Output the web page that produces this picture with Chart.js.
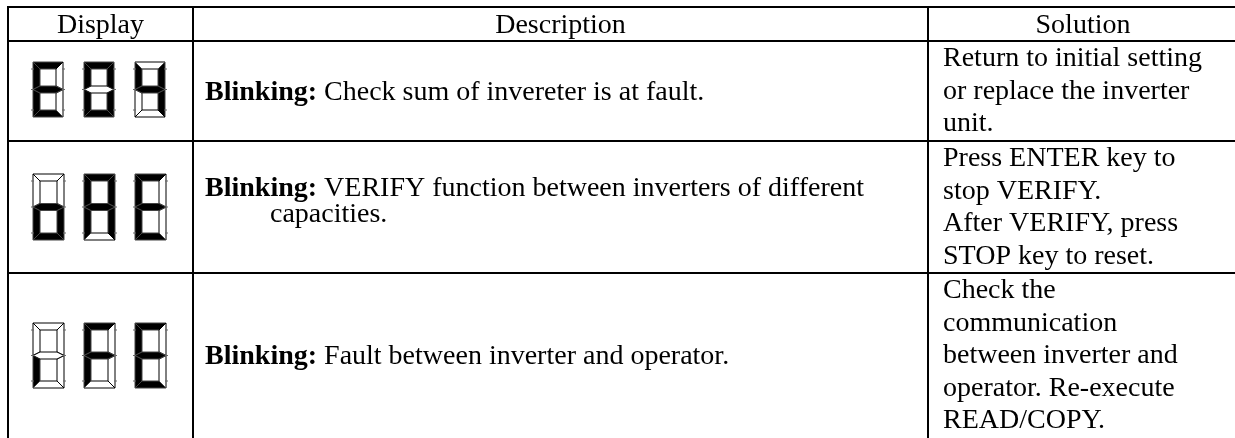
<!DOCTYPE html>
<html>
<head>
<meta charset="utf-8">
<script src="https://cdn.jsdelivr.net/npm/chart.js@4/dist/chart.umd.min.js"></script>
<style>
  html, body { margin: 0; padding: 0; background: #fff; }
  #wrap { width: 1235px; height: 438px; position: relative; }
</style>
</head>
<body>
<div id="wrap"><canvas id="errTable"></canvas></div>
<script>
// table content
const headers = ['Display', 'Description', 'Solution']
const displayCodes = ['E04', 'oAE', 'iFE']
const descLabels = ['Blinking:', 'Blinking:', 'Blinking:']
const descLines = [
    ['Check sum of invereter is at fault.'],
    ['VERIFY function between inverters of different', 'capacities.'],
    ['Fault between inverter and operator.']
]
const solutionLines = [
    ['Return to initial setting', 'or replace the inverter', 'unit.'],
    ['Press ENTER key to', 'stop VERIFY.', 'After VERIFY, press', 'STOP key to reset.'],
    ['Check the', 'communication', 'between inverter and', 'operator. Re-execute', 'READ/COPY.']
]
// lit segments per character (a top, b up-right, c low-right, d bottom, e low-left, f up-left, g middle)
const segmentMap = { E: 'adefg', '0': 'abcdef', '4': 'bcfg', o: 'cdeg', A: 'abcefg', i: 'e', F: 'aefg' }

// layout, in page pixels (the hidden scales run 0..1235 and 0..438)
const colEdges = [8, 193, 928, 1238]
const rowEdges = [7, 41, 141, 273, 445]
const FONT = '"Liberation Serif", "Times New Roman", serif'
const SIZE = 28
const LINE_H = 32.5

function gridDatasets() {
    const sets = []
    rowEdges.slice(0, 4).forEach(y => {
        sets.push({ data: [{ x: colEdges[0] - 1, y: y }, { x: colEdges[3], y: y }] })
    })
    colEdges.slice(0, 3).forEach(x => {
        sets.push({ data: [{ x: x, y: rowEdges[0] - 1 }, { x: x, y: rowEdges[4] }] })
    })
    return sets.map(s => Object.assign(s, {
        showLine: true, borderColor: '#000', borderWidth: 2, pointRadius: 0, fill: false
    }))
}

function segPolys(w, h, t) {
    const m = h / 2
    return {
        a: [[0, 0], [w, 0], [w - t, t], [t, t]],
        d: [[0, h], [t, h - t], [w - t, h - t], [w, h]],
        f: [[0, 0], [t, t], [t, m - t / 2], [0, m]],
        b: [[w, 0], [w, m], [w - t, m - t / 2], [w - t, t]],
        e: [[0, m], [t, m + t / 2], [t, h - t], [0, h]],
        c: [[w, m], [w, h], [w - t, h - t], [w - t, m + t / 2]],
        g: [[0, m], [t, m - t / 2], [w - t, m - t / 2], [w, m], [w - t, m + t / 2], [t, m + t / 2]]
    }
}

const digitRows = [
    { top: 62, h: 55, w: 30, t: 7 },
    { top: 174, h: 66, w: 31, t: 7 },
    { top: 323, h: 65, w: 31, t: 7 }
]
const digitLefts = [33, 84, 135]

const tablePlugin = {
    id: 'tablePlugin',
    afterDatasetsDraw(chart) {
        const ctx = chart.ctx
        const sx = v => chart.scales.x.getPixelForValue(v)
        const sy = v => chart.scales.y.getPixelForValue(v)
        ctx.save()
        ctx.fillStyle = '#000'
        ctx.textBaseline = 'alphabetic'

        // header
        ctx.font = SIZE + 'px ' + FONT
        ctx.textAlign = 'center'
        headers.forEach((h, i) => {
            ctx.fillText(h, sx((colEdges[i] + colEdges[i + 1]) / 2), sy(33))
        })

        // rows
        ctx.textAlign = 'left'
        const descBase = [[100], [196, 222], [364]]
        for (let r = 0; r < 3; r++) {
            // description
            ctx.font = 'bold ' + SIZE + 'px ' + FONT
            ctx.fillText(descLabels[r], sx(205), sy(descBase[r][0]))
            const lw = ctx.measureText(descLabels[r] + ' ').width
            ctx.font = SIZE + 'px ' + FONT
            descLines[r].forEach((txt, k) => {
                const x = k === 0 ? 205 + lw : 270
                ctx.fillText(txt, sx(x), sy(descBase[r][k]))
            })
            // solution
            solutionLines[r].forEach((txt, k) => {
                ctx.fillText(txt, sx(943), sy(rowEdges[r + 1] + 25 + k * LINE_H))
            })
            // seven segment display
            const g = digitRows[r]
            const polys = segPolys(g.w, g.h, g.t)
            displayCodes[r].split('').forEach((ch, d) => {
                const lit = segmentMap[ch]
                const x0 = digitLefts[d], y0 = g.top
                'abcdefg'.split('').forEach(s => {
                    const on = lit.indexOf(s) >= 0
                    ctx.beginPath()
                    polys[s].forEach((p, i) => {
                        const px = sx(x0 + p[0]), py = sy(y0 + p[1])
                        if (i === 0) ctx.moveTo(px, py); else ctx.lineTo(px, py)
                    })
                    ctx.closePath()
                    ctx.fillStyle = on ? '#000' : '#fff'
                    ctx.fill()
                    ctx.lineWidth = 1
                    ctx.strokeStyle = on ? '#444' : '#000'
                    ctx.stroke()
                })
                // small ticks on the sides
                ctx.strokeStyle = '#666'
                ctx.lineWidth = 1
                ;[g.t, g.h / 2, g.h - g.t].forEach(ty => {
                    ctx.beginPath()
                    ctx.moveTo(sx(x0 - 2), sy(y0 + ty)); ctx.lineTo(sx(x0 + 1), sy(y0 + ty))
                    ctx.moveTo(sx(x0 + g.w - 1), sy(y0 + ty)); ctx.lineTo(sx(x0 + g.w + 2), sy(y0 + ty))
                    ctx.stroke()
                })
                ctx.fillStyle = '#000'
            })
        }
        ctx.restore()
    }
}

new Chart(document.getElementById('errTable').getContext('2d'), {
    type: 'scatter',
    data: { datasets: gridDatasets() },
    options: {
        responsive: true,
        maintainAspectRatio: false,
        animation: false,
        events: [],
        layout: { padding: 0 },
        plugins: { legend: { display: false }, tooltip: { enabled: false } },
        scales: {
            x: { type: 'linear', min: 0, max: 1235, display: false },
            y: { type: 'linear', min: 0, max: 438, reverse: true, display: false }
        }
    },
    plugins: [tablePlugin]
})
</script>
</body>
</html>
